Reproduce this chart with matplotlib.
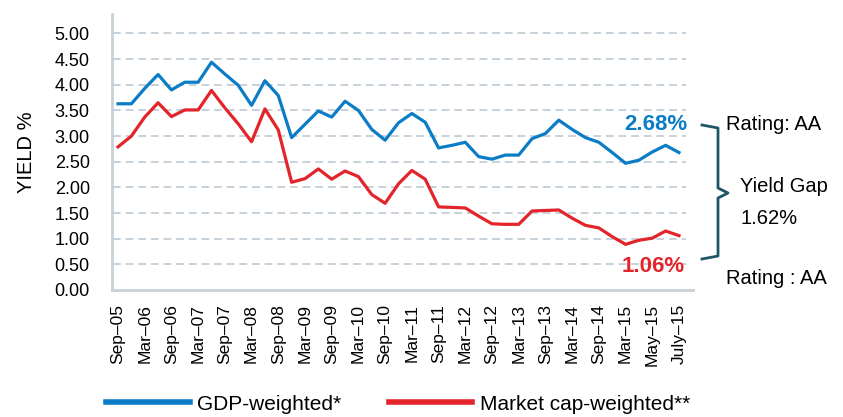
import numpy as np
import matplotlib.pyplot as plt
from matplotlib.lines import Line2D

# datos trimestrales, etiquetas cada dos puntos
etiquetas = ["Sep–05", "Mar–06", "Sep–06", "Mar–07", "Sep–07", "Mar–08", "Sep–08",
             "Mar–09", "Sep–09", "Mar–10", "Sep–10", "Mar–11", "Sep–11", "Mar–12",
             "Sep–12", "Mar–13", "Sep–13", "Mar–14", "Sep–14", "Mar–15", "May–15",
             "July–15"]

gdp_weighted = [3.63, 3.63, 3.93, 4.20, 3.90, 4.05, 4.05, 4.44, 4.21, 3.99, 3.60,
                4.08, 3.79, 2.97, 3.23, 3.49, 3.37, 3.68, 3.50, 3.13, 2.92, 3.26,
                3.44, 3.27, 2.77, 2.82, 2.88, 2.60, 2.55, 2.63, 2.63, 2.95, 3.05,
                3.31, 3.13, 2.97, 2.88, 2.68, 2.47, 2.53, 2.69, 2.82, 2.68]

market_cap = [2.79, 3.00, 3.37, 3.65, 3.38, 3.51, 3.51, 3.89, 3.55, 3.24, 2.89,
              3.53, 3.12, 2.10, 2.17, 2.36, 2.16, 2.32, 2.21, 1.86, 1.69, 2.07,
              2.33, 2.16, 1.62, 1.61, 1.60, 1.44, 1.29, 1.28, 1.28, 1.54, 1.55,
              1.56, 1.40, 1.26, 1.21, 1.04, 0.89, 0.97, 1.01, 1.15, 1.06]

yticks = np.arange(0, 5.01, 0.5)

azul = '#0b7dc6'
rojo = '#e3242b'
gris = '#c7d1d9'
teal = '#1f5568'

plt.rcParams['font.family'] = ['Liberation Sans', 'DejaVu Sans']

fig = plt.figure(figsize=(8.43, 4.17), dpi=100)
ax = fig.add_axes([112/843, 1 - 290/417, (693 - 112)/843, (290 - 14)/417])

x = np.arange(len(gdp_weighted))
ax.hlines(yticks[1:], -0.4, 42.5, colors=gris, linestyles=(0, (4, 2.5)), lw=1.4, zorder=1)
ax.plot(x, gdp_weighted, color=azul, lw=2.3, zorder=3)
ax.plot(x, market_cap, color=rojo, lw=2.3, zorder=3)

ax.set_xlim(-0.45, 43.05)
ax.set_ylim(0, 5.38)
ax.set_yticks(yticks)
ax.set_yticklabels([f'{v:.2f}' for v in yticks], fontsize=13)
ax.set_xticks(x[::2])
ax.set_xticklabels(etiquetas, rotation=90, fontsize=12.5)
ax.tick_params(length=0)
ax.tick_params(axis='y', pad=16)
ax.tick_params(axis='x', pad=10)

for lado in ['top', 'right']:
    ax.spines[lado].set_visible(False)
for lado in ['left', 'bottom']:
    ax.spines[lado].set_color(gris)
    ax.spines[lado].set_linewidth(2)

ax.set_ylabel('YIELD %', fontsize=14.5, labelpad=13)

# valores finales
ax.text(0.99, gdp_weighted[-1] + 0.55, f'{gdp_weighted[-1]:.2f}%', transform=ax.get_yaxis_transform(),
        ha='right', va='center', color=azul, fontsize=16, fontweight='bold')
ax.text(0.985, market_cap[-1] - 0.60, f'{market_cap[-1]:.2f}%', transform=ax.get_yaxis_transform(),
        ha='right', va='center', color=rojo, fontsize=16, fontweight='bold')

# llave de la brecha
def px(xp, yp):
    return xp / 843, 1 - yp / 417

pts = [px(702, 125), px(718, 128), px(718, 188), px(728, 193), px(718, 198),
       px(718, 256), px(702, 259)]
fig.add_artist(Line2D([p[0] for p in pts], [p[1] for p in pts], color=teal, lw=2,
                      transform=fig.transFigure))

fig.text(*px(726, 125), 'Rating: AA', ha='left', va='center', fontsize=14.5)
fig.text(*px(740, 187), 'Yield Gap', ha='left', va='center', fontsize=14.5)
fig.text(*px(740, 219), f'{gdp_weighted[-1] - market_cap[-1]:.2f}%', ha='left', va='center',
         fontsize=14.5)
fig.text(*px(726, 278), 'Rating : AA', ha='left', va='center', fontsize=14.5)

handles = [Line2D([], [], color=azul, lw=4), Line2D([], [], color=rojo, lw=4)]
fig.legend(handles, ['GDP-weighted*', 'Market cap-weighted**'], loc='center',
           bbox_to_anchor=(398/843, 1 - 404/417), ncol=2, frameon=False,
           prop={'size': 15}, handlelength=4.0, handletextpad=0.35, columnspacing=2.3)

fig.savefig('out.png', dpi=100)
